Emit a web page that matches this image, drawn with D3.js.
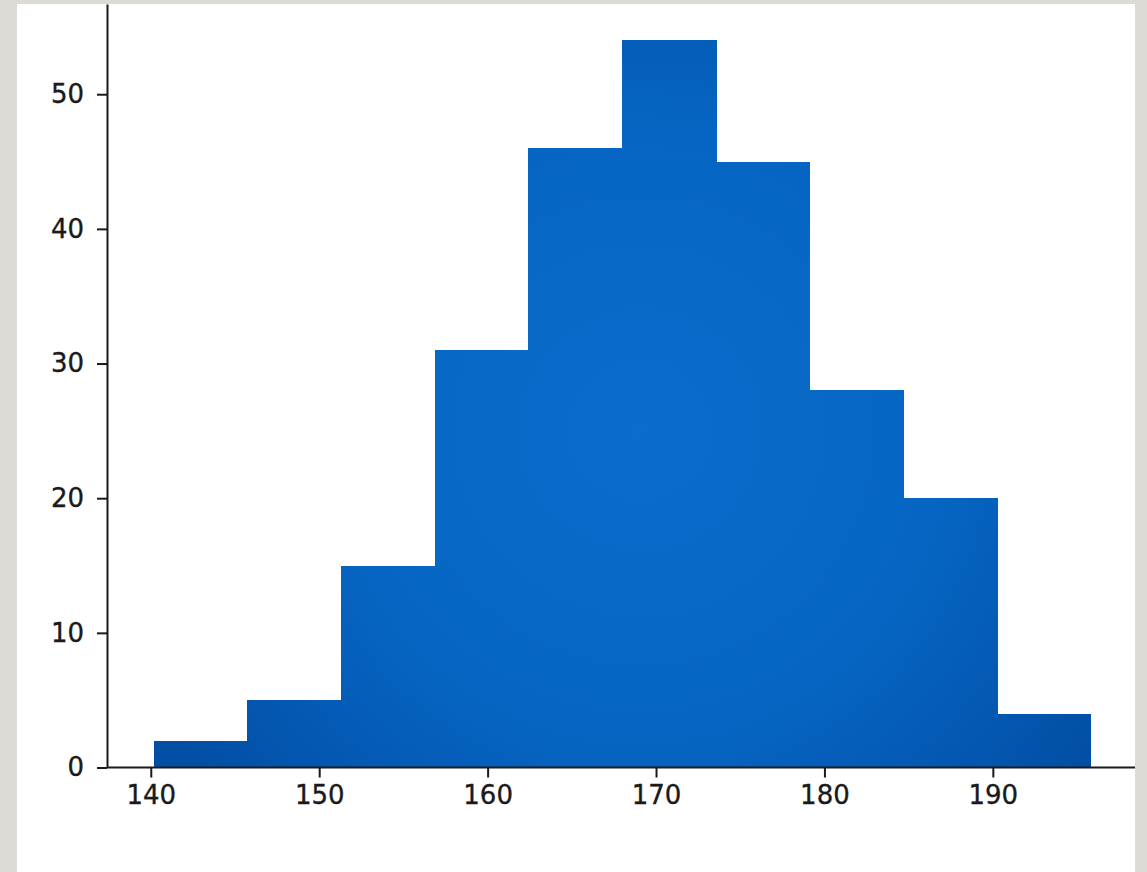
<!DOCTYPE html>
<meta charset="utf-8">
<script src="https://d3js.org/d3.v7.min.js"></script>
<style>
    body { margin: 0; background: #dedbd6; }
    svg { display: block; }
    .axis text { font-family: "DejaVu Sans", sans-serif; font-size: 26px; fill: #1a1a1a; stroke: #1a1a1a; stroke-width: 0.35; }
    .axis path, .axis line { stroke: #1a1a1a; stroke-width: 2; }
    .bars rect { shape-rendering: crispEdges; }
</style>
<div id="hist"></div>
<script>
    // histogram data
    var binEdges = [140.18, 145.74, 151.30, 156.86, 162.42, 167.98, 173.54, 179.10, 184.66, 190.22, 195.78];
    var counts = [2, 5, 15, 31, 46, 54, 45, 28, 20, 4];
    var xTicks = [140, 150, 160, 170, 180, 190];
    var yTicks = [0, 10, 20, 30, 40, 50];

    var W = 1147, H = 872;
    var margin = {top: 4, right: 10, bottom: 104, left: 107};
    var width = 1137 - margin.left,
        height = 767.5 - margin.top;

    var svg = d3.select("#hist").append("svg")
        .attr("width", W)
        .attr("height", H);

    // white page on grey surround
    svg.append("rect")
        .attr("x", 17).attr("y", 4)
        .attr("width", 1135 - 17).attr("height", H - 4)
        .attr("fill", "#fff");

    var defs = svg.append("defs");
    var grad = defs.append("radialGradient")
        .attr("id", "barfill")
        .attr("gradientUnits", "userSpaceOnUse")
        .attr("cx", 640).attr("cy", 430).attr("r", 560);
    grad.append("stop").attr("offset", "0%").attr("stop-color", "#0a6dcc");
    grad.append("stop").attr("offset", "55%").attr("stop-color", "#0665c2");
    grad.append("stop").attr("offset", "100%").attr("stop-color", "#024ea4");

    var g = svg.append("g")
        .attr("transform", "translate(" + margin.left + "," + margin.top + ")");

    var lo = binEdges[0], hi = binEdges[binEdges.length - 1];
    var pad = (hi - lo) * 0.05;
    var x = d3.scaleLinear()
        .domain([lo - pad, hi + pad])
        .range([0, width]);

    var y = d3.scaleLinear()
        .domain([0, d3.max(counts) * 1.05])
        .range([height, 0]);

    var bins = counts.map(function(c, i) {
        return {x0: binEdges[i], x1: binEdges[i + 1], n: c};
    });

    // bars, gradient in page coordinates so it spans the whole histogram
    g.append("g")
        .attr("class", "bars")
        .attr("transform", "translate(" + (-margin.left) + "," + (-margin.top) + ")")
        .selectAll("rect")
        .data(bins)
        .enter()
        .append("rect")
        .attr("x", function(d) { return Math.round(margin.left + x(d.x0)); })
        .attr("y", function(d) { return margin.top + y(d.n); })
        .attr("width", function(d) { return Math.round(margin.left + x(d.x1)) - Math.round(margin.left + x(d.x0)) + 1; })
        .attr("height", function(d) { return y(0) - y(d.n); })
        .attr("fill", "url(#barfill)");

    // axes
    var xAxis = g.append("g")
        .attr("class", "axis")
        .attr("transform", "translate(0," + height + ")")
        .call(d3.axisBottom(x).tickValues(xTicks).tickSize(10).tickPadding(8).tickSizeOuter(0));

    var yAxis = g.append("g")
        .attr("class", "axis")
        .call(d3.axisLeft(y).tickValues(yTicks).tickSize(10).tickPadding(13).tickSizeOuter(0));

    xAxis.select(".domain").attr("d", "M0,0H" + (1135 - margin.left));
</script>
